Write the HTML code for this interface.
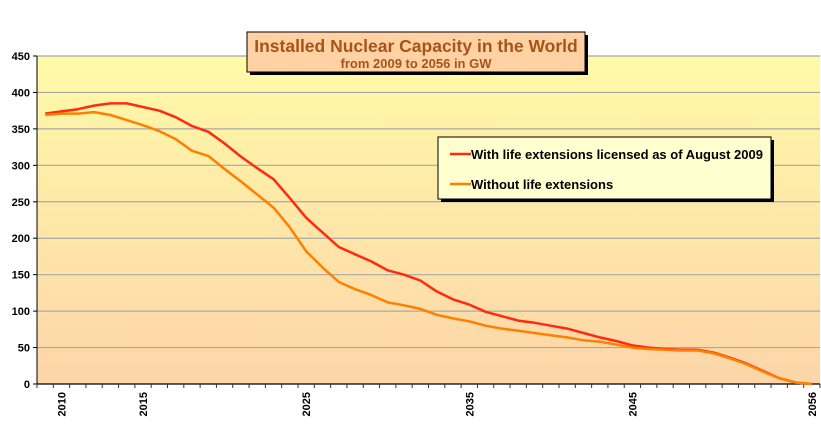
<!DOCTYPE html>
<html><head><meta charset="utf-8"><style>
body{margin:0;background:#fff;}
svg{display:block;font-family:"Liberation Sans",sans-serif;}
</style></head><body>
<svg id="chart" width="821" height="437" viewBox="0 0 821 437">
<defs>
<linearGradient id="bg" x1="0" y1="0" x2="0" y2="1">
<stop offset="0" stop-color="#fffaa8"/><stop offset="1" stop-color="#fdd5a8"/>
</linearGradient>
</defs>
<rect x="37" y="56" width="783" height="328" fill="url(#bg)"/>
<g id="grid"></g>
<g id="axes"></g>
<g id="series"></g>
<g>
<rect x="250" y="35" width="338" height="40" fill="#000"/>
<rect x="247" y="32" width="338" height="40" fill="#ffd1a3" stroke="#000" stroke-width="1"/>
<text x="416" y="52" text-anchor="middle" font-size="17.5" font-weight="bold" fill="#a65418">Installed Nuclear Capacity in the World</text>
<text x="416" y="68" text-anchor="middle" font-size="13" font-weight="bold" fill="#a65418">from 2009 to 2056 in GW</text>
</g>
<g>
<rect x="441" y="140" width="333" height="62" fill="#000"/>
<rect x="438" y="137" width="333" height="62" fill="#ffffd0" stroke="#000" stroke-width="1"/>
<line x1="450" y1="154" x2="471" y2="154" stroke="#ff2a10" stroke-width="2.5"/>
<text x="471" y="159" font-size="13" font-weight="bold" fill="#000">With life extensions licensed as of August 2009</text>
<line x1="450" y1="184" x2="471" y2="184" stroke="#ff8000" stroke-width="2.5"/>
<text x="471" y="189" font-size="13" font-weight="bold" fill="#000">Without life extensions</text>
</g>
</svg>
<script>
const years = [];
for (let y = 2009; y <= 2056; y++) years.push(y);
const withExt = [371,374,377,382,385,385,380,375,366,354,346,330,312,296,281,255,228,208,188,178,168,156,150,142,127,116,109,99,93,87,84,80,76,70,64,59,53,50,48,47,47,43,36,28,18,8,2,0];
const withoutExt = [369,371,371,373,369,362,355,347,336,320,313,295,278,260,242,215,182,160,140,130,122,112,108,103,95,90,86,80,76,73,70,67,64,60,58,54,50,48,47,46,46,42,35,27,17,8,2,0];
const yTicks = [0,50,100,150,200,250,300,350,400,450];
const xLabels = [2010,2015,2025,2035,2045,2056];

const NS = "http://www.w3.org/2000/svg";
const L = 37, R = 820, T = 56, B = 384, yMax = 450;
const step = (R - L) / years.length;
const xc = i => L + step * (i + 0.5);
const ys = v => B - (v / yMax) * (B - T);
function mk(tag, attrs, parent) {
  const e = document.createElementNS(NS, tag);
  for (const k in attrs) e.setAttribute(k, attrs[k]);
  parent.appendChild(e);
  return e;
}
const grid = document.getElementById('grid');
const axes = document.getElementById('axes');
const series = document.getElementById('series');

yTicks.forEach(t => {
  if (t > 0) {
    const g = mk('line', {x1: L, x2: R, y1: ys(t), y2: ys(t), stroke: '#a8a8a8', 'stroke-width': 1.2}, grid);
    
    
  }
  const tk = mk('line', {x1: L - 4, x2: L, y1: ys(t), y2: ys(t), stroke: '#000'}, axes);
  
  
  const tx = mk('text', {x: L - 7, y: ys(t) + 4, 'text-anchor': 'end', 'font-size': 11, 'font-weight': 'bold'}, axes);
  tx.textContent = t;
  
  
});
const ya = mk('line', {x1: L, x2: L, y1: T, y2: B, stroke: '#000'}, axes);


const xa = mk('line', {x1: L, x2: R, y1: B, y2: B, stroke: '#000', 'stroke-width': 1.2}, axes);


for (let i = 0; i <= years.length; i++) {
  const x = L + step * i;
  const tk = mk('line', {x1: x, x2: x, y1: B, y2: B + 4, stroke: '#333'}, axes);
  
  
}
xLabels.forEach(yr => {
  const i = years.indexOf(yr);
  const x = xc(i) + 4;
  const tx = mk('text', {x: x, y: B + 8, 'text-anchor': 'end', 'font-size': 11, 'font-weight': 'bold', transform: 'rotate(-90 ' + x + ' ' + (B + 8) + ')'}, axes);
  tx.textContent = yr;
  
  
});
function drawLine(vals, color, name) {
  const d = vals.map((v, i) => (i ? 'L' : 'M') + xc(i).toFixed(1) + ',' + ys(v).toFixed(1)).join('');
  const p = mk('path', {d: d, fill: 'none', stroke: color, 'stroke-width': 2.5, 'stroke-linejoin': 'round'}, series);
  
  
}
drawLine(withExt, '#ff2a10', 'line-with-life-extensions');
drawLine(withoutExt, '#ff8000', 'line-without-life-extensions');
</script>
</body></html>
